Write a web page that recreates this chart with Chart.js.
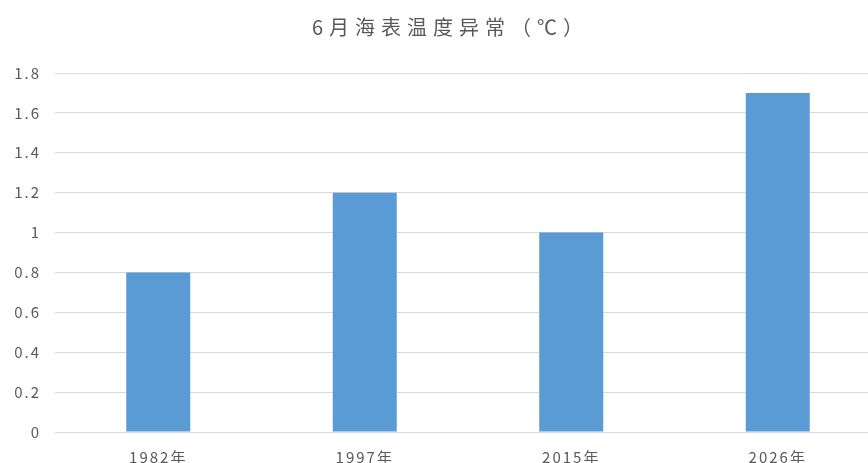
<!DOCTYPE html>
<html>
<head>
<meta charset="utf-8">
<script src="https://cdn.jsdelivr.net/npm/chart.js@4"></script>
<style>
  html, body { margin: 0; padding: 0; background: #fff; overflow: hidden; }
  #wrap { width: 868px; height: 463px; overflow: hidden; }
</style>
</head>
<body>
<div id="wrap"><canvas id="sst" width="881" height="472"></canvas></div>
<script>
const years = ["1982年", "1997年", "2015年", "2026年"]
const anomaly = [0.8, 1.2, 1.0, 1.7]
const yTicks = [0, 0.2, 0.4, 0.6, 0.8, 1, 1.2, 1.4, 1.6, 1.8]
const chartTitle = "6月海表温度异常（℃）"

const grey = "#595959"
const cjk = "'Noto Sans CJK SC', 'Noto Sans', sans-serif"

// canvas letterSpacing so the CJK text spreads like the office-style font
const spacing = {
    id: "spacing",
    beforeDraw(chart) { chart.ctx.letterSpacing = "2px" },
    afterDraw(chart) { chart.ctx.letterSpacing = "0px" }
}
// title drawn by hand in the space the title box reserves, with wider tracking
const titleSpacing = {
    id: "titleSpacing",
    beforeDraw(chart) {
        const ctx = chart.ctx
        const t = chart.titleBlock
        ctx.save()
        ctx.letterSpacing = "6px"
        ctx.font = "20px " + cjk
        ctx.fillStyle = grey
        ctx.textAlign = "center"
        ctx.textBaseline = "middle"
        ctx.fillText(chartTitle, (t.left + t.right) / 2 + 10, t.top + t.height / 2 - 9)
        ctx.restore()
    }
}

new Chart(document.getElementById("sst"), {
    type: "bar",
    data: {
        labels: years,
        datasets: [{
            data: anomaly,
            backgroundColor: "#5B9BD5",
            categoryPercentage: 1,
            barPercentage: 0.31
        }]
    },
    options: {
        responsive: false,
        animation: false,
        layout: { padding: 0 },
        plugins: {
            legend: { display: false },
            tooltip: { enabled: false },
            title: {
                display: true,
                text: "",
                font: { size: 20 },
                padding: { top: 15, bottom: 34 }
            }
        },
        scales: {
            x: {
                grid: { display: false },
                border: { display: false },
                ticks: { color: grey, font: { family: cjk, size: 15 }, padding: 8 },
                afterFit: s => { s.height = 40 }
            },
            y: {
                min: 0,
                max: 1.8,
                afterBuildTicks: s => { s.ticks = yTicks.map(v => ({ value: v })) },
                grid: { color: "#D9D9D9", lineWidth: 1, drawTicks: false },
                border: { display: false },
                ticks: {
                    color: grey,
                    font: { family: cjk, size: 15 },
                    padding: 14,
                    callback: v => String(Math.round(v * 10) / 10)
                },
                afterFit: s => { s.width = 55 }
            }
        }
    },
    plugins: [spacing, titleSpacing]
})
</script>
</body>
</html>
